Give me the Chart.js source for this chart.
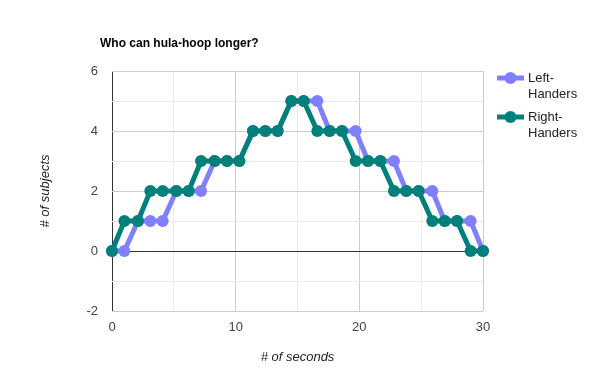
<!DOCTYPE html>
<html>
<head>
<meta charset="utf-8">
<script src="https://cdn.jsdelivr.net/npm/chart.js@4"></script>
<style>
  html, body { margin: 0; padding: 0; background: #fff; }
  #wrap { position: relative; width: 591px; height: 381px; }
</style>
</head>
<body>
<div id="wrap"><canvas id="grafico" width="591" height="381"></canvas></div>
<script>
const titulo = "Who can hula-hoop longer?";
const segundos = [0, 1, 2.1, 3.1, 4.1, 5.2, 6.2, 7.2, 8.3, 9.3, 10.3, 11.4, 12.4, 13.4, 14.5,
                  15.5, 16.6, 17.6, 18.6, 19.7, 20.7, 21.7, 22.8, 23.8, 24.8, 25.9, 26.9, 27.9, 29, 30];
const canhotos = [0, 0, 1, 1, 1, 2, 2, 2, 3, 3, 3, 4, 4, 4, 5, 5, 5, 4, 4, 4, 3, 3, 3, 2, 2, 2, 1, 1, 1, 0];
const destros  = [0, 1, 1, 2, 2, 2, 2, 3, 3, 3, 3, 4, 4, 4, 5, 5, 4, 4, 4, 3, 3, 3, 2, 2, 2, 1, 1, 1, 0, 0];
const series = [["Left-", "Handers"], ["Right-", "Handers"]];
const cores = ["#8080ff", "#00807a"];
const ticksX = [0, 10, 20, 30];
const ticksY = [-2, 0, 2, 4, 6];

const fonte = "Arial, 'Liberation Sans', sans-serif";

function pontos(valores) {
    return valores.map((v, i) => ({ x: segundos[i], y: v }));
}

const legendaTitulo = {
    id: "legendaTitulo",
    afterDraw(chart) {
        const ctx = chart.ctx;
        ctx.save();
        ctx.fillStyle = "#000";
        ctx.font = "bold 12px " + fonte;
        ctx.textBaseline = "middle";
        ctx.textAlign = "left";
        ctx.fillText(titulo, 100, 44);

        ctx.font = "13px " + fonte;
        series.forEach((nome, i) => {
            const y = 78 + i * 39;
            ctx.strokeStyle = cores[i];
            ctx.lineWidth = 5;
            ctx.beginPath();
            ctx.moveTo(497, y);
            ctx.lineTo(524, y);
            ctx.stroke();
            ctx.fillStyle = cores[i];
            ctx.beginPath();
            ctx.arc(510.5, y, 6, 0, Math.PI * 2);
            ctx.fill();
            ctx.fillStyle = "#222";
            ctx.fillText(nome[0], 528, y);
            ctx.fillText(nome[1], 528, y + 16);
        });
        ctx.restore();
    }
};

function serie(i, valores, ordem) {
    return {
        label: series[i].join(""),
        data: pontos(valores),
        borderColor: cores[i],
        backgroundColor: cores[i],
        borderWidth: 5,
        pointRadius: 6,
        pointHoverRadius: 6,
        pointBorderWidth: 0,
        clip: false,
        order: ordem
    };
}

new Chart(document.getElementById("grafico"), {
    type: "line",
    data: {
        datasets: [serie(0, canhotos, 2), serie(1, destros, 1)]
    },
    options: {
        responsive: false,
        animation: false,
        layout: { padding: { top: 71, right: 108, left: 0, bottom: 0 } },
        plugins: {
            legend: { display: false },
            title: { display: false },
            tooltip: { enabled: false }
        },
        scales: {
            x: {
                type: "linear",
                min: 0,
                max: 30,
                afterFit(scale) { scale.height = 70; },
                afterBuildTicks(scale) {
                    scale.ticks = [0, 5, 10, 15, 20, 25, 30].map(v => ({ value: v }));
                },
                border: { display: false },
                grid: {
                    drawTicks: false,
                    color: ctx => ctx.tick.value === 0 ? "#333" : (ctx.tick.value % 10 === 0 ? "#cccccc" : "#ebebeb"),
                    lineWidth: 1
                },
                ticks: {
                    padding: 9,
                    color: "#444",
                    font: { family: fonte, size: 13 },
                    maxRotation: 0,
                    autoSkip: false,
                    callback: v => ticksX.includes(v) ? String(v) : ""
                },
                title: {
                    display: true,
                    text: "# of seconds",
                    color: "#222",
                    font: { family: fonte, size: 13, style: "italic" },
                    padding: { top: 0, bottom: 16 }
                }
            },
            y: {
                min: -2,
                max: 6,
                afterFit(scale) { scale.width = 112; },
                afterBuildTicks(scale) {
                    scale.ticks = [-2, -1, 0, 1, 2, 3, 4, 5, 6].map(v => ({ value: v }));
                },
                border: { display: false },
                grid: {
                    drawTicks: false,
                    color: ctx => ctx.tick.value === 0 ? "#333" : (ctx.tick.value % 2 === 0 ? "#cccccc" : "#ebebeb"),
                    lineWidth: 1
                },
                ticks: {
                    padding: 14,
                    color: "#444",
                    font: { family: fonte, size: 13 },
                    autoSkip: false,
                    callback: v => ticksY.includes(v) ? String(v) : ""
                },
                title: {
                    display: true,
                    text: "# of subjects",
                    color: "#222",
                    font: { family: fonte, size: 13, style: "italic" },
                    padding: { top: 38, bottom: 0 }
                }
            }
        }
    },
    plugins: [legendaTitulo]
});
</script>
</body>
</html>
